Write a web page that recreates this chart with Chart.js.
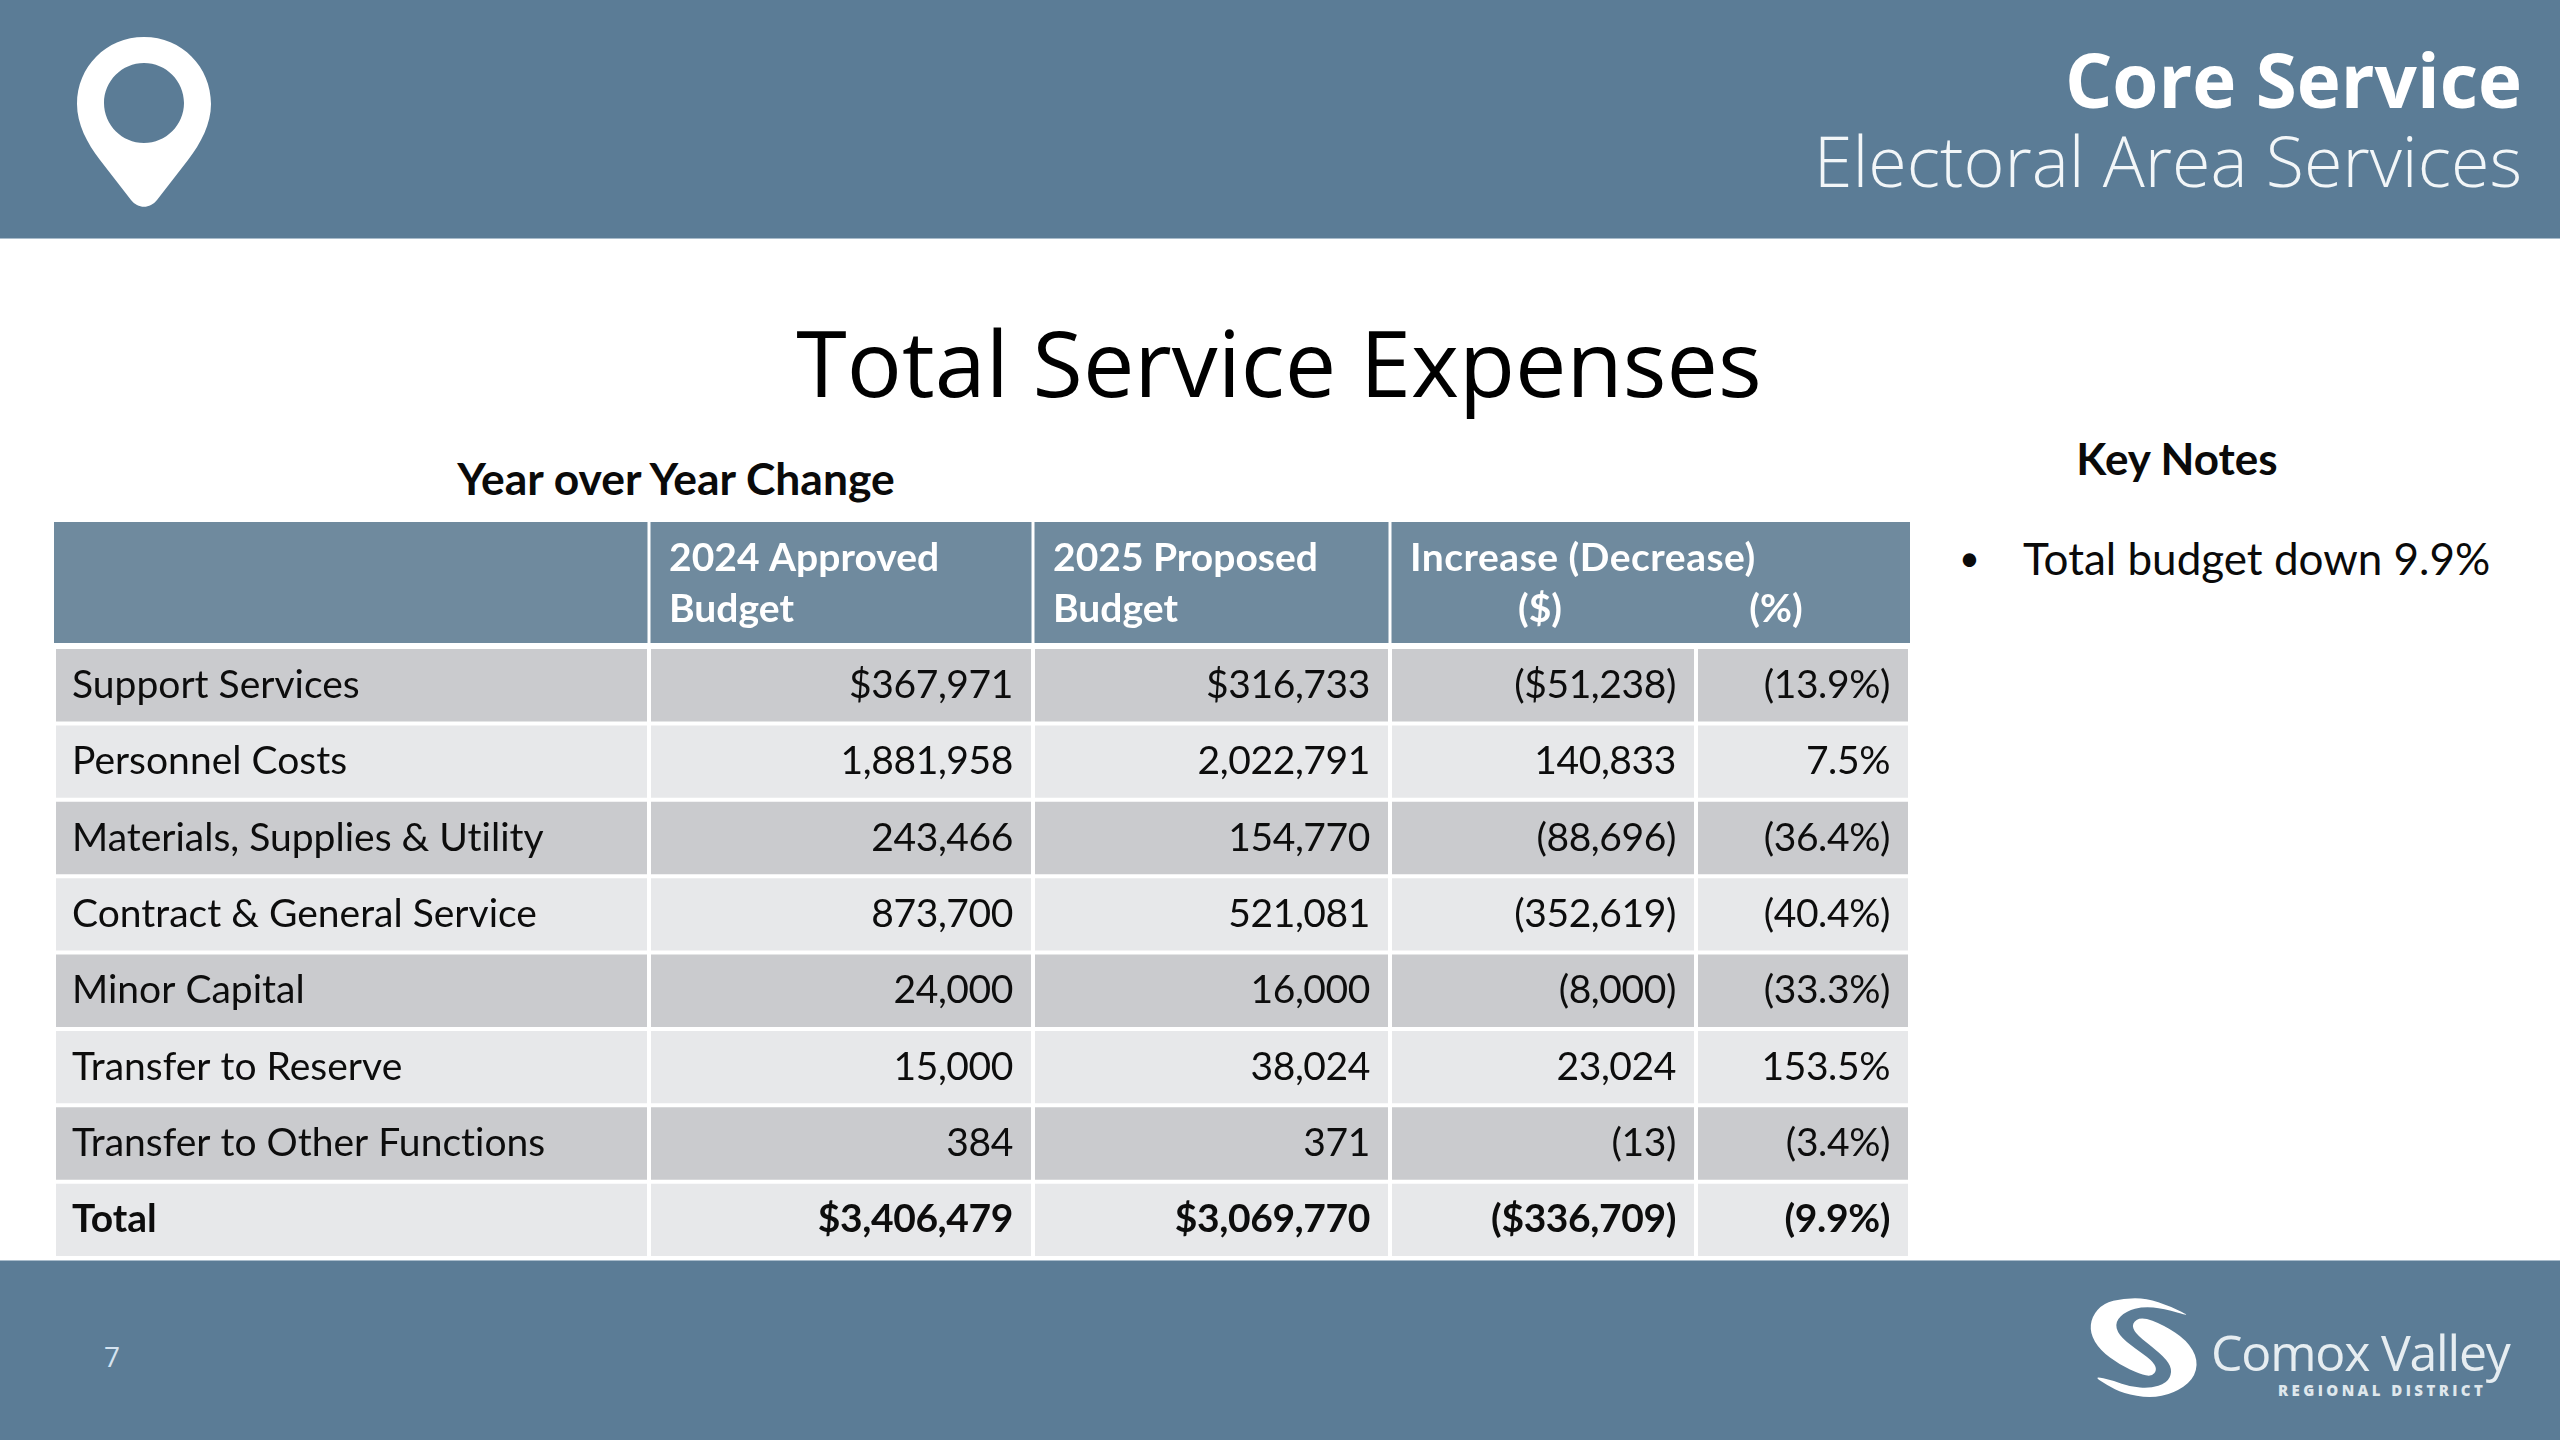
<!DOCTYPE html>
<html><head><meta charset="utf-8">
<script src="https://cdn.jsdelivr.net/npm/chart.js@4"></script>
<style>
html,body{margin:0;padding:0;background:#fff;width:2560px;height:1440px;overflow:hidden}
.t{position:absolute;white-space:nowrap;line-height:1;color:#000;font-variant-ligatures:none}
.band{position:absolute;left:0;width:2560px;background:#5b7c96}
svg{position:absolute;overflow:visible}
#wrap{position:absolute;left:54px;top:522px;width:1856px;height:736px}
</style></head><body>
<div class="band" style="top:0;height:238px;border-bottom:1px solid #a9bccb"></div>
<div class="band" style="top:1260px;height:180px;border-top:1px solid #a9bccb"></div>

<svg style="left:0;top:0" width="290" height="238" viewBox="0 0 290 238">
  <path fill="#fff" fill-rule="evenodd" d="M144 37 C106 37 77 67 77 104 C77 124 87 143 100 160 L131 200 C138 209 150 209 157 200 L188 160 C201 143 211 124 211 104 C211 67 182 37 144 37 Z M144 63 C166 63 184 81 184 103 C184 125 166 143 144 143 C122 143 104 125 104 103 C104 81 122 63 144 63 Z"/>
</svg>

<div class="t" id="core" style="right:38px;top:28px;font:700 74.5px 'Open Sans';color:#fff">Core Service</div>
<div class="t" id="ea" style="right:38px;top:112px;font:300 70px 'Open Sans';color:#f2f6f8">Electoral Area Services</div>
<div class="t" id="title" style="left:0;width:2558px;text-align:center;top:299px;font:400 91.7px 'Open Sans';color:#000">Total Service Expenses</div>
<div class="t" id="yoy" style="left:0;width:1352px;text-align:center;top:451px;font:700 44.4px Lato;color:#0a0a0a">Year over Year Change</div>
<div class="t" id="kn" style="left:1900px;width:554px;text-align:center;top:432px;font:700 44px Lato;color:#0a0a0a">Key Notes</div>
<div class="t" style="left:1959px;top:535px;font:400 36px Lato;color:#0a0a0a">•</div>
<div class="t" id="note" style="left:2023px;top:532px;font:400 44px Lato;color:#0a0a0a">Total budget down 9.9%</div>
<div class="t" style="left:104px;top:1337px;font:400 28px 'Open Sans';color:#d5e3f0">7</div>

<svg id="logo" style="left:2080px;top:1290px" width="130" height="120" viewBox="0 0 390 360"></svg>
<div class="t" id="cv" style="left:2211px;top:1318px;font:400 50px 'Open Sans';color:#e6edf1;letter-spacing:-1.2px">Comox Valley</div>
<div class="t" id="rd" style="left:2278px;top:1380px;font:800 15px 'Open Sans';color:#dfe7ec;letter-spacing:3.4px">REGIONAL DISTRICT</div>

<div id="wrap"><canvas id="c" width="1856" height="736"></canvas></div>

<script>
// ---- table data ----
const categories = ["Support Services","Personnel Costs","Materials, Supplies & Utility","Contract & General Service","Minor Capital","Transfer to Reserve","Transfer to Other Functions","Total"];
const approved2024 = [367971,1881958,243466,873700,24000,15000,384,3406479];
const proposed2025 = [316733,2022791,154770,521081,16000,38024,371,3069770];
const changeDollars = [-51238,140833,-88696,-352619,-8000,23024,-13,-336709];
const changePercent = [-13.9,7.5,-36.4,-40.4,-33.3,153.5,-3.4,-9.9];
const headerApproved = ["2024 Approved","Budget"];
const headerProposed = ["2025 Proposed","Budget"];
const headerChange = "Increase (Decrease)";
const headerUnits = ["($)","(%)"];

// relative column widths of the table grid
const columnShares = [595,384,357,306,214];

const BODY_FONT = "Lato";
const FS = 39;
const DARK="#cacbce", LIGHT="#e7e8ea", HEAD="#6f8a9e", INK="#0d0d0d";

const money=(v,i)=>{
  const d=(i===0||i===categories.length-1)?"$":"";
  const s=d+Math.abs(v).toLocaleString("en-US");
  return v<0?"("+s+")":s;
};
const pct=v=>{const s=Math.abs(v).toFixed(1)+"%";return v<0?"("+s+")":s;};

const valueColumns=[
  {values:approved2024,fmt:money},
  {values:proposed2025,fmt:money},
  {values:changeDollars,fmt:money},
  {values:changePercent,fmt:pct}
];

const tablePlugin={
  id:"tableText",
  beforeDraw(chart){ chart.ctx.letterSpacing="0.01px"; },
  afterDatasetsDraw(chart){
    const ctx=chart.ctx, area=chart.chartArea;
    const cell=(c,r)=>chart.getDatasetMeta(c).data[r];
    const left=c=>cell(c,0).base, right=c=>cell(c,0).x;
    const headBottom=area.top-4;
    ctx.save();
    // header band, divided by the same column edges as the rows
    ctx.fillStyle=HEAD;
    ctx.fillRect(left(0),0,right(4)-left(0),headBottom);
    ctx.fillStyle="#fff";
    [1,2,3].forEach(c=>ctx.fillRect(left(c)-1.5,0,3,headBottom));
    // header text
    ctx.fillStyle="#fff";
    ctx.font=`700 ${FS}px ${BODY_FONT}`;
    ctx.textBaseline="alphabetic";
    ctx.textAlign="left";
    const l1=49,l2=100;
    headerApproved.forEach((t,i)=>ctx.fillText(t,left(1)+20,i?l2:l1));
    headerProposed.forEach((t,i)=>ctx.fillText(t,left(2)+20,i?l2:l1));
    ctx.letterSpacing="0.5px";
    ctx.fillText(headerChange,left(3)+20,l1);
    ctx.letterSpacing="0.01px";
    ctx.textAlign="center";
    ctx.fillText(headerUnits[0],(left(3)+right(3))/2-3,l2);
    ctx.fillText(headerUnits[1],left(4)+80,l2);
    // value cells
    ctx.fillStyle=INK;
    ctx.textAlign="right";
    ctx.textBaseline="middle";
    ctx.letterSpacing="-0.4px";
    valueColumns.forEach((col,c)=>{
      col.values.forEach((v,r)=>{
        const bar=cell(c+1,r);
        ctx.font=`${r===categories.length-1?700:400} ${FS}px ${BODY_FONT}`;
        ctx.fillText(col.fmt(v,r),bar.x-20,bar.y);
      });
    });
    ctx.restore();
  }
};

new Chart(document.getElementById("c"),{
  type:"bar",
  plugins:[tablePlugin],
  data:{
    labels:categories,
    datasets:columnShares.map((w,c)=>({
      label:"col"+c,
      data:categories.map(()=>w),
      backgroundColor:ctx=>ctx.dataIndex%2===0?DARK:LIGHT,
      borderColor:"#ffffff",
      borderWidth:2,
      borderSkipped:false,
      inflateAmount:0,
      barPercentage:1,
      categoryPercentage:1
    }))
  },
  options:{
    indexAxis:"y",
    responsive:false,
    animation:false,
    devicePixelRatio:1,
    layout:{padding:{top:125,left:0,right:0,bottom:0}},
    plugins:{legend:{display:false},tooltip:{enabled:false},title:{display:false}},
    scales:{
      x:{type:"linear",stacked:true,display:false,min:0,max:columnShares.reduce((a,b)=>a+b,0)},
      y:{
        stacked:true,
        grid:{display:false,drawTicks:false},
        border:{display:false},
        afterFit(scale){scale.width=0;scale.paddingTop=0;scale.paddingBottom=0;scale.paddingLeft=0;scale.paddingRight=0;},
        ticks:{
          mirror:true,z:2,padding:18,autoSkip:false,color:INK,
          font:ctx=>({family:BODY_FONT,size:FS,weight:ctx.index===categories.length-1?"700":"400"})
        }
      }
    }
  }
});

// logo mark: two closed curves smoothed through outline points
const logoA=[[338,82],[270,48],[200,25],[130,25],[70,40],[35,80],[30,130],[60,180],[120,225],[180,252],[215,260],[232,238],[215,210],[165,175],[115,135],[105,95],[140,62],[190,50],[250,55]];
const logoB=[[155,100],[185,80],[250,105],[320,150],[355,210],[340,270],[280,310],[210,325],[130,310],[80,285],[40,258],[100,272],[150,290],[210,295],[260,280],[277,245],[262,210],[210,165],[165,130]];
const smooth=p=>{
  const m=(a,b)=>[(a[0]+b[0])/2,(a[1]+b[1])/2];
  let s=m(p[p.length-1],p[0]), d=`M${s[0]} ${s[1]}`;
  p.forEach((q,i)=>{const e=m(q,p[(i+1)%p.length]);d+=` Q${q[0]} ${q[1]} ${e[0]} ${e[1]}`;});
  return d+"Z";
};
document.getElementById("logo").innerHTML=`<path fill="#fff" d="${smooth(logoA)}"/><path fill="#fff" d="${smooth(logoB)}"/>`;
</script>
</body></html>
